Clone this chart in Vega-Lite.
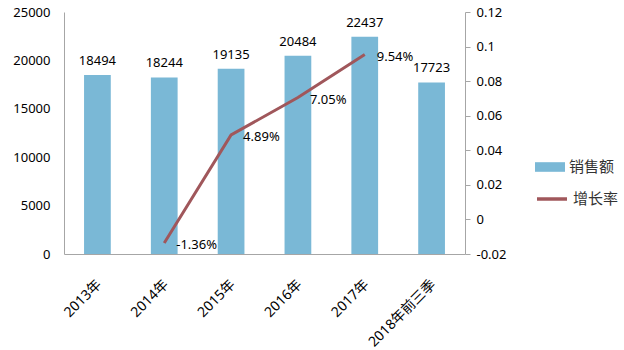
{
  "$schema": "https://vega.github.io/schema/vega-lite/v6.json",
  "autosize": {"type": "none"},
  "width": 401,
  "height": 242,
  "padding": {"left": 64, "top": 12, "right": 159, "bottom": 96},
  "background": "white",
  "config": {
    "font": "Noto Sans, Noto Sans CJK SC",
    "view": {"stroke": null},
    "axis": {"domainColor": "#a6a6a6", "labelColor": "#000000", "labelFontSize": 13, "grid": false, "title": null, "labelFont": "Noto Sans, Noto Sans CJK SC", "labelOverlap": false}
  },
  "data": {
    "values": [
      {"period": "2013年", "sales": 18494, "rate": null},
      {"period": "2014年", "sales": 18244, "rate": -0.0136},
      {"period": "2015年", "sales": 19135, "rate": 0.0489},
      {"period": "2016年", "sales": 20484, "rate": 0.0705},
      {"period": "2017年", "sales": 22437, "rate": 0.0954},
      {"period": "2018年前三季", "sales": 17723, "rate": null}
    ]
  },
  "encoding": {
    "x": {
      "field": "period", "type": "nominal", "sort": null,
      "scale": {"paddingInner": 0.6, "paddingOuter": 0.3},
      "axis": {"labelAngle": -45, "labelAlign": "right", "labelBaseline": "middle", "ticks": false, "labelPadding": 28, "labelOffset": 2, "domainColor": "#a6a6a6", "labelFontSize": 14}
    }
  },
  "layer": [
    {
      "encoding": {
        "y": {"field": "sales", "type": "quantitative", "scale": {"domain": [0, 25000], "nice": false},
          "axis": {"orient": "left", "values": [0, 5000, 10000, 15000, 20000, 25000], "format": "d", "ticks": false, "labelPadding": 14}}
      },
      "layer": [
        {
          "mark": {"type": "bar"},
          "encoding": {
            "fill": {"datum": "销售额", "type": "nominal", "scale": {"domain": ["销售额"], "range": ["#7ab8d6"]},
              "legend": {"title": null, "orient": "none", "legendX": 471, "legendY": 140, "symbolType": "M-1,-0.32H1V0.32H-1Z", "symbolSize": 900, "symbolStrokeWidth": 0, "labelFontSize": 15, "labelColor": "#333333", "labelOffset": 4, "labelFont": "Noto Sans CJK SC"}}
          }
        },
        {
          "mark": {"type": "text", "baseline": "bottom", "dy": -7, "fontSize": 13, "color": "#000000"},
          "encoding": {
            "text": {"field": "sales", "type": "quantitative", "format": "d"}
          }
        }
      ]
    },
    {
      "transform": [{"filter": "datum.rate != null"}],
      "encoding": {
        "y": {"field": "rate", "type": "quantitative", "scale": {"domain": [-0.02, 0.12], "nice": false},
          "axis": {"orient": "right", "values": [-0.02, 0, 0.02, 0.04, 0.06, 0.08, 0.1, 0.12], "labelExpr": "toString(round(datum.value*100)/100)", "tickSize": 5, "tickColor": "#a6a6a6", "labelPadding": 6}}
      },
      "layer": [
        {
          "mark": {"type": "line", "strokeWidth": 3},
          "encoding": {
            "stroke": {"datum": "增长率", "type": "nominal", "scale": {"domain": ["增长率"], "range": ["#a0575b"]},
              "legend": {"title": null, "orient": "none", "legendX": 471, "legendY": 170, "symbolType": "stroke", "symbolSize": 900, "symbolStrokeWidth": 3.5, "labelFontSize": 15, "labelColor": "#333333", "labelOffset": 4, "labelFont": "Noto Sans CJK SC"}}
          }
        },
        {
          "transform": [{"calculate": "replace(format(datum.rate, '.2%'), '\u2212', '-')", "as": "rateLabel"}],
          "mark": {"type": "text", "align": "left", "baseline": "middle", "dx": 12, "dy": 2, "fontSize": 13, "color": "#000000"},
          "encoding": {
            "text": {"field": "rateLabel", "type": "nominal"}
          }
        }
      ]
    }
  ],
  "resolve": {"scale": {"y": "independent", "fill": "independent", "stroke": "independent"}}
}
